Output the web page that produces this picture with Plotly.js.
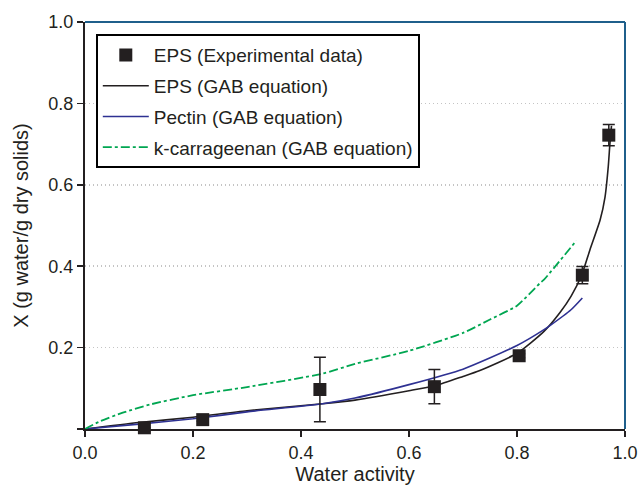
<!DOCTYPE html>
<html>
<head>
<meta charset="utf-8">
<script src="https://cdn.plot.ly/plotly-3.0.1.min.js"></script>
<style>html,body{margin:0;padding:0;background:#fff;}#chart{width:638px;height:489px;}</style>
</head>
<body>
<div id="chart"></div>
<script>
// Experimental data (EPS)
const expAw = [0.11, 0.218, 0.435, 0.647, 0.804, 0.921, 0.97];
const expX  = [0.003, 0.023, 0.097, 0.104, 0.180, 0.378, 0.722];
const expErr = [0.0, 0.004, 0.079, 0.042, 0.005, 0.021, 0.026];

// EPS GAB curve
const epsAw = [0, 0.1, 0.2, 0.3, 0.44, 0.5, 0.6, 0.65, 0.7, 0.73, 0.8, 0.85, 0.88, 0.9, 0.92, 0.935, 0.954, 0.963, 0.969, 0.972, 0.975];
const epsX  = [0, 0.016, 0.029, 0.045, 0.062, 0.071, 0.094, 0.107, 0.129, 0.143, 0.186, 0.240, 0.287, 0.326, 0.379, 0.44, 0.514, 0.57, 0.645, 0.70, 0.745];

// Pectin GAB curve
const pecAw = [0, 0.1, 0.2, 0.3, 0.44, 0.5, 0.6, 0.7, 0.8, 0.85, 0.861, 0.9, 0.921];
const pecX  = [0, 0.012, 0.025, 0.042, 0.062, 0.076, 0.109, 0.147, 0.205, 0.244, 0.254, 0.293, 0.322];

// k-carrageenan GAB curve
const carAw = [0, 0.028, 0.07, 0.12, 0.2, 0.3, 0.44, 0.5, 0.6, 0.7, 0.75, 0.8, 0.843, 0.85, 0.91];
const carX  = [0, 0.019, 0.040, 0.060, 0.083, 0.103, 0.136, 0.160, 0.192, 0.236, 0.269, 0.303, 0.359, 0.367, 0.463];

const legendNames = ['EPS (Experimental data)', 'EPS (GAB equation)', 'Pectin (GAB equation)', 'k-carrageenan (GAB equation)'];

const ink = '#231f20';
const traces = [
  {x: epsAw, y: epsX, mode: 'lines', type: 'scatter', name: legendNames[1], legendgroup: 'b', legendrank: 2,
   line: {color: ink, width: 1.6, shape: 'spline', smoothing: 0.6}},
  {x: pecAw, y: pecX, mode: 'lines', type: 'scatter', name: legendNames[2], legendgroup: 'c', legendrank: 3,
   line: {color: '#2e3192', width: 1.6, shape: 'spline', smoothing: 0.6}},
  {x: carAw, y: carX, mode: 'lines', type: 'scatter', name: legendNames[3], legendgroup: 'd', legendrank: 4,
   line: {color: '#00a651', width: 1.8, dash: 'dashdot', shape: 'spline', smoothing: 0.6}},
  {x: expAw, y: expX, mode: 'markers', type: 'scatter', name: legendNames[0], legendgroup: 'a', legendrank: 1,
   cliponaxis: false,
   marker: {symbol: 'square', size: 13, color: ink},
   error_y: {type: 'data', array: expErr, visible: true, color: ink, thickness: 1.5, width: 6}}
];

const font = {family: 'Liberation Sans, Arial, sans-serif', color: ink};
const layout = {
  width: 638, height: 489,
  margin: {l: 85, r: 13, t: 22, b: 60},
  paper_bgcolor: '#fff', plot_bgcolor: '#fff',
  font: Object.assign({size: 18}, font),
  showlegend: true,
  legend: {x: 0.02, y: 0.97, xanchor: 'left', yanchor: 'top',
    bordercolor: '#000', borderwidth: 2, bgcolor: '#fff',
    font: Object.assign({size: 19}, font),
    traceorder: 'grouped', tracegroupgap: 3, itemwidth: 46},
  xaxis: {range: [0, 1], tickvals: [0, 0.2, 0.4, 0.6, 0.8, 1.0], ticktext: ['0.0','0.2','0.4','0.6','0.8','1.0'],
    ticks: 'outside', ticklen: 6, tickwidth: 1.5, tickcolor: ink,
    showline: true, linecolor: ink, linewidth: 2, showgrid: false, zeroline: false,
    tickfont: Object.assign({size: 18}, font),
    title: {text: 'Water activity', font: Object.assign({size: 20}, font), standoff: 0}},
  yaxis: {range: [0, 1], tickvals: [0, 0.2, 0.4, 0.6, 0.8, 1.0], ticktext: ['','0.2','0.4','0.6','0.8','1.0'],
    ticks: 'outside', ticklen: 6, tickwidth: 1.5, tickcolor: ink,
    showline: true, linecolor: ink, linewidth: 2, zeroline: false,
    showgrid: true, gridcolor: '#c4c4c4', griddash: '1px,3px', gridwidth: 1.5,
    tickfont: Object.assign({size: 18}, font),
    title: {text: 'X (g water/g dry solids)', font: Object.assign({size: 20}, font), standoff: 14}},
  shapes: [
    {type: 'line', xref: 'paper', yref: 'paper', x0: 0, x1: 1, y0: 1, y1: 1, line: {color: '#1f5f8b', width: 2}},
    {type: 'line', xref: 'paper', yref: 'paper', x0: 1, x1: 1, y0: 0, y1: 1, line: {color: '#1f5f8b', width: 2}}
  ]
};
Plotly.newPlot('chart', traces, layout, {displayModeBar: false, staticPlot: true});
</script>
</body>
</html>
